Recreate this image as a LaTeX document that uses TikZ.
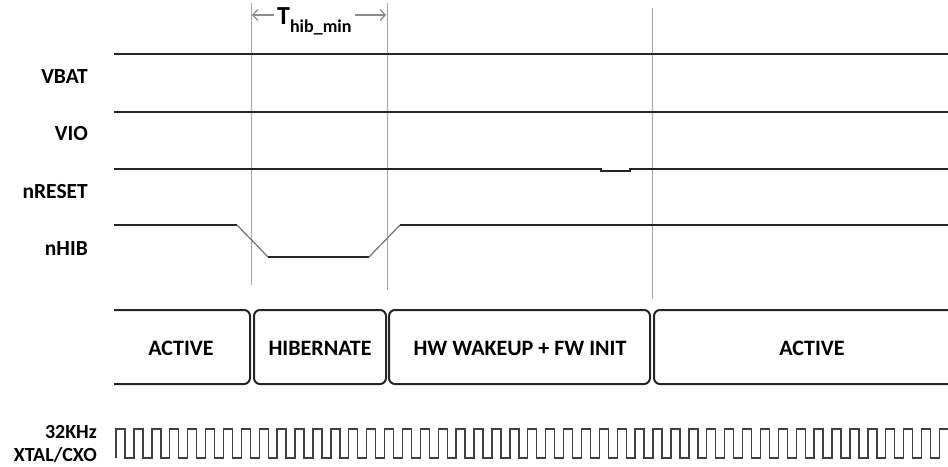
\documentclass[tikz,border=0pt]{standalone}
\usepackage{fontspec}
\setmainfont{Carlito}
\usepackage{tikz}
\usetikzlibrary{arrows.meta}
\tikzset{
  wave/.style={line width=2.3pt, black!85},
  edge/.style={line width=1.2pt, black!55},
  marker/.style={line width=1pt, black!35},
  statebox/.style={line width=2pt, black!85, rounded corners=6pt},
  clk/.style={line width=1.4pt, black!75},
  siglabel/.style={font=\fontsize{21.5}{23}\selectfont\bfseries, inner sep=0pt, anchor=east, align=right},
  statelabel/.style={font=\fontsize{22}{23}\selectfont\bfseries, inner sep=0pt},
  dimline/.style={line width=1.2pt, black!45, -{Straight Barb[length=5pt,width=11pt]}}
}

\begin{document}
\begin{tikzpicture}[x=1pt,y=-1pt]
\useasboundingbox (0,0) rectangle (948,466);
% time markers
\draw[marker] (251,3) -- (251,285);
\draw[marker] (387,3) -- (387,290);
\draw[marker] (652,8) -- (652,299);
% minimum hibernate time
\coordinate (tl) at (252,15);
\coordinate (tr) at (386,15);
\node[inner sep=0pt, anchor=base west] (thib) at (277,24)
  {\bfseries\fontsize{26}{28}\selectfont T\raisebox{-8pt}{\fontsize{18}{20}\selectfont hib\_min}};
\draw[dimline] (thib.west |- tl) ++(-3,0) -- (tl);
\draw[dimline] (thib.east |- tr) ++(3,0) -- (tr);
% signal names
\foreach \y/\lab in {77/VBAT,134/VIO,192/nRESET,249/nHIB}{
  \node[siglabel] (\lab) at (88,\y) {\lab};
}
\node[siglabel, font=\fontsize{20}{23}\selectfont\bfseries] (xtal) at (97,444) {32KHz\\XTAL/CXO};
% waveforms
\draw[wave] (114,54) -- (948,54);
\draw[wave] (114,112) -- (948,112);
\draw[wave] (114,169) -- (601,169) -- (601,171) -- (630,171) -- (630,169) -- (948,169);
\draw[wave] (114,225) -- (237,225);
\draw[edge] (237,225) -- (268,257);
\draw[wave] (268,257) -- (369,257);
\draw[edge] (369,257) -- (400,225);
\draw[wave] (400,225) -- (948,225);
% states
\draw[statebox] (114,310) -- (250,310) -- (250,384) -- (114,384);
\draw[statebox] (254,310) rectangle (386,384);
\draw[statebox] (389,310) rectangle (650,384);
\draw[statebox] (960,310) -- (654,310) -- (654,384) -- (960,384);
\node[statelabel] (act1) at (181,348) {ACTIVE};
\node[statelabel] (hib) at (320,348) {HIBERNATE};
\node[statelabel] (wake) at (520,348) {HW WAKEUP + FW INIT};
\node[statelabel] (act2) at (812,348) {ACTIVE};
% 32KHz clock
\draw[clk] (116,458) \foreach \i in {0,...,46}{ -- ++(0,-29) -- ++(9,0) -- ++(0,29) -- ++(8.9,0) };
\end{tikzpicture}
\end{document}
